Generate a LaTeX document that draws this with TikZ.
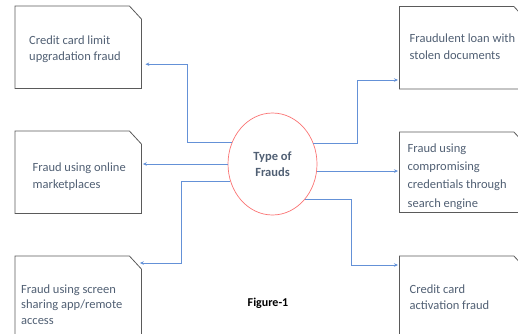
\documentclass[tikz,border=0pt]{standalone}
\usepackage{fontspec}
\setmainfont{Carlito}
\usetikzlibrary{shapes.geometric,arrows.meta,calc,positioning}
\definecolor{boxgrey}{RGB}{90,90,90}
\definecolor{textslate}{RGB}{80,95,115}
\definecolor{linkblue}{RGB}{100,145,215}
\definecolor{hubred}{RGB}{250,115,115}
\tikzset{>={Stealth[length=4pt,width=3.5pt]}}

\begin{document}
\begin{tikzpicture}[x=1pt,y=-1pt,
    fraudbox/.style={rectangle,inner sep=0pt,minimum width=126pt,
      minimum height=82pt,anchor=north west},
    boxline/.style={draw=boxgrey,line width=0.8pt,line join=miter},
    boxtext/.style={text=textslate,align=left,inner sep=0pt,
      font=\fontsize{12.5}{16.5}\selectfont},
    link/.style={draw=linkblue,line width=0.7pt,->,shorten >=1.5pt},
    hub/.style={ellipse,draw=hubred,line width=0.7pt,minimum width=89pt,
      minimum height=102pt,inner sep=0pt,text=textslate,align=center,
      font=\bfseries\fontsize{12.5}{16}\selectfont}]
  \useasboundingbox (0,0) rectangle (518,333);
  \clip (0,0) rectangle (518,333);
  % the boxes
  \node[fraudbox] (limit) at (15,6) {};
  \node[fraudbox] (market) at (15,131) {};
  \node[fraudbox,minimum height=100pt] (screen) at (15,256) {};
  \node[fraudbox] (stolen) at (399.5,6.5) {};
  \node[fraudbox,minimum height=80pt] (search) at (399.5,132) {};
  \node[fraudbox,minimum height=100pt] (activation) at (399.5,256) {};
  % cut corner outlines
  \foreach \b in {limit,market,screen,stolen,search,activation}
    \draw[boxline] (\b.north west) -- ([xshift=-12pt]\b.north east)
      -- ([yshift=-13pt]\b.north east) -- (\b.south east) -- (\b.south west) -- cycle;
  % their texts
  \node[boxtext,below right=29.5pt and 14pt of limit.north west] (limittxt) {Credit card limit\\upgradation fraud};
  \node[boxtext,below right=32pt and 17.5pt of market.north west] (markettxt) {Fraud using online\\marketplaces};
  \node[boxtext,below right=28.5pt and 6pt of screen.north west,font=\fontsize{12.5}{15.5}\selectfont] (screentxt) {Fraud using screen\\sharing app/remote\\access};
  \node[boxtext,below right=27.5pt and 10pt of stolen.north west] (stolentxt) {Fraudulent loan with\\stolen documents};
  \node[boxtext,below right=11.5pt and 8pt of search.north west,font=\fontsize{12.5}{18.3}\selectfont] (searchtxt) {Fraud using\\compromising\\credentials through\\search engine};
  \node[boxtext,below right=28.5pt and 10pt of activation.north west] (activationtxt) {Credit card\\activation fraud};
  % the centre
  \node[hub] (frauds) at (272.5,164) {Type of\\Frauds};
  \node[font=\bfseries\fontsize{12}{14}\selectfont] (caption) at (268,303) {Figure-1};
  % left side
  \draw[link,shorten >=4pt] (frauds.152.6) -- ++(-44,0) |- ([yshift=-17pt]limit.east);
  \draw[link] (frauds.west) -- (frauds.west -| market.east);
  \draw[link] (frauds.202.1) -- ++(-49,0) |- ($(screen.north -| screen.east)+(-3,7)$);
  % right side
  \draw[link] (frauds.27.4) -- ++(44,0) |- ($(stolen.north west)+(0,73.5)$);
  \draw[link] (frauds.-9) -- (frauds.-9 -| search.west);
  \draw[link] (frauds.-47.2) -- ++(46,0) |- ($(activation.north west)+(0,9)$);
\end{tikzpicture}
\end{document}
